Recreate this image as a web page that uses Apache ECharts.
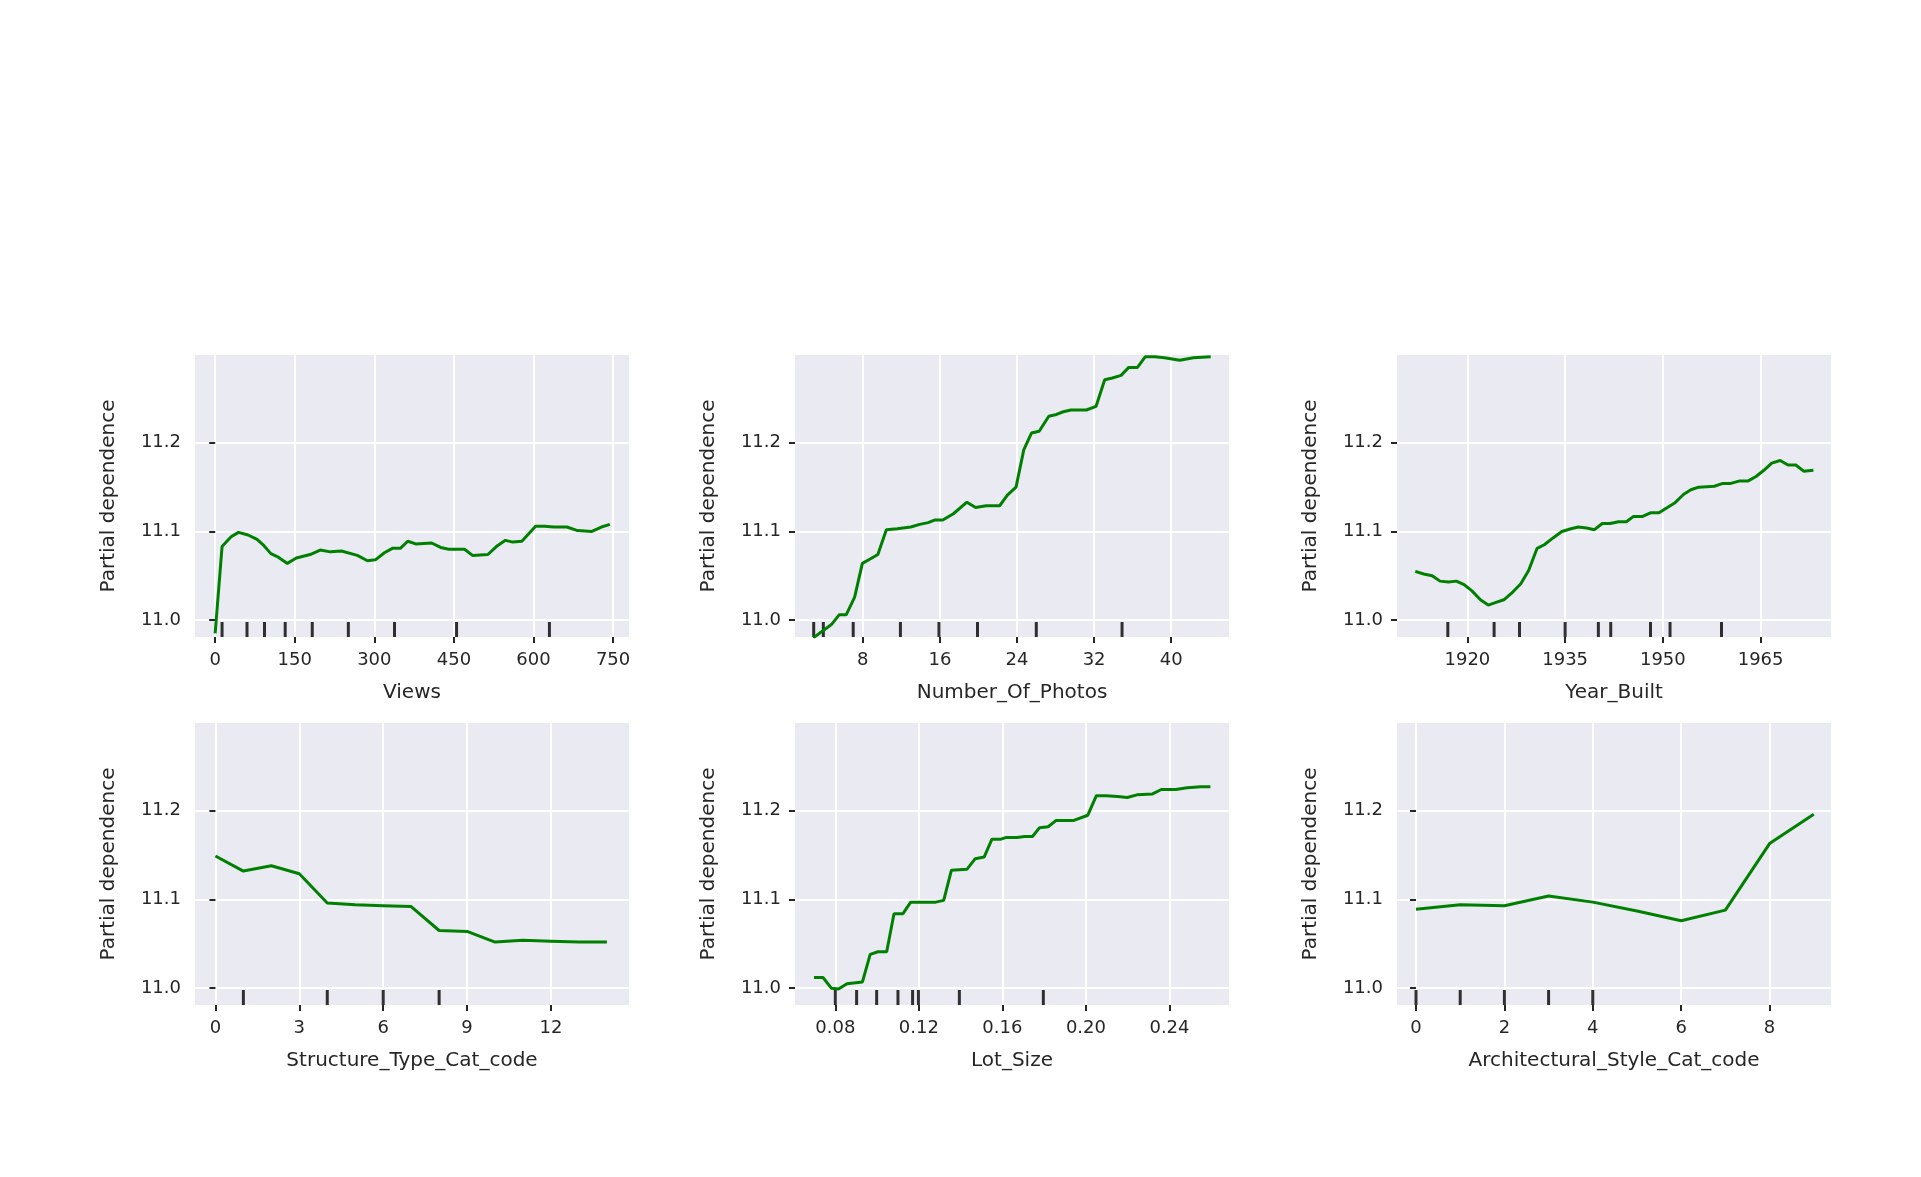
<!DOCTYPE html>
<html>
<head>
<meta charset="utf-8" />
<script src="https://cdn.jsdelivr.net/npm/echarts@6/dist/echarts.min.js"></script>
<style>
  html, body { margin: 0; padding: 0; background: #fff; }
  #main { width: 1921px; height: 1177px; }
</style>
</head>
<body>
<div id="main"></div>
<script type="text/javascript">
// partial dependence curves, one per feature
var viewsX = [0, 13, 30, 44, 62, 79, 92, 105, 119, 136, 153, 179, 198, 217, 238, 268, 287, 302, 319, 334, 349, 363, 378, 408, 425, 440, 470, 485, 514, 530, 547, 561, 578, 604, 621, 638, 663, 683, 710, 728, 744];
var viewsY = [10.985, 11.083, 11.094, 11.099, 11.096, 11.091, 11.084, 11.075, 11.071, 11.064, 11.070, 11.074, 11.079, 11.077, 11.078, 11.073, 11.067, 11.068, 11.076, 11.081, 11.081, 11.089, 11.086, 11.087, 11.082, 11.080, 11.080, 11.073, 11.074, 11.083, 11.090, 11.088, 11.089, 11.106, 11.106, 11.105, 11.105, 11.101, 11.100, 11.105, 11.108];
var viewsRug = [13, 60, 93, 132, 183, 251, 338, 455, 630];

var photosX = [2.85, 4.74, 5.54, 6.27, 7.15, 7.95, 8.76, 9.56, 10.44, 11.57, 12.97, 13.9, 14.78, 15.5, 16.3, 17.4, 18.8, 19.7, 20.8, 22.2, 23.0, 23.9, 24.7, 25.5, 26.3, 27.3, 28.1, 28.8, 29.6, 31.2, 32.2, 33.1, 33.9, 34.8, 35.6, 36.5, 37.3, 38.3, 39.3, 40.9, 42.3, 44.1];
var photosY = [10.980, 10.995, 11.006, 11.006, 11.026, 11.064, 11.069, 11.074, 11.102, 11.103, 11.105, 11.108, 11.110, 11.113, 11.113, 11.120, 11.133, 11.127, 11.129, 11.129, 11.141, 11.150, 11.192, 11.211, 11.213, 11.230, 11.232, 11.235, 11.237, 11.237, 11.241, 11.271, 11.273, 11.276, 11.285, 11.285, 11.297, 11.297, 11.296, 11.293, 11.296, 11.297];
var photosRug = [2.9, 3.9, 7.0, 11.9, 15.9, 19.9, 26.0, 34.9];

var yearX = [1912.0, 1913.3, 1914.6, 1915.8, 1917.1, 1918.3, 1919.5, 1920.7, 1922.0, 1923.2, 1924.4, 1925.6, 1927.0, 1928.2, 1929.4, 1930.7, 1931.8, 1933.2, 1934.5, 1935.9, 1937.0, 1938.3, 1939.5, 1940.7, 1941.9, 1943.2, 1944.4, 1945.5, 1946.9, 1948.1, 1949.4, 1950.7, 1951.8, 1953.2, 1954.3, 1955.5, 1957.9, 1959.1, 1960.3, 1961.8, 1963.1, 1964.3, 1965.5, 1966.7, 1968.0, 1969.2, 1970.4, 1971.6, 1973.1];
var yearY = [11.055, 11.052, 11.050, 11.044, 11.043, 11.044, 11.040, 11.033, 11.023, 11.017, 11.020, 11.023, 11.032, 11.041, 11.056, 11.081, 11.085, 11.093, 11.100, 11.103, 11.105, 11.104, 11.102, 11.109, 11.109, 11.111, 11.111, 11.117, 11.117, 11.121, 11.121, 11.127, 11.132, 11.142, 11.147, 11.150, 11.151, 11.154, 11.154, 11.157, 11.157, 11.162, 11.169, 11.177, 11.180, 11.175, 11.175, 11.168, 11.169];
var yearRug = [1917.0, 1924.1, 1928.0, 1935.0, 1940.1, 1942.0, 1948.1, 1951.1, 1959.0];

var structX = [0, 1, 2, 3, 4, 5, 6, 7, 8, 9, 10, 11, 12, 13, 14];
var structY = [11.149, 11.132, 11.138, 11.129, 11.096, 11.094, 11.093, 11.092, 11.065, 11.064, 11.052, 11.054, 11.053, 11.052, 11.052];
var structRug = [1, 4, 6, 8];

var lotX = [0.0698, 0.0741, 0.0781, 0.0815, 0.0856, 0.0930, 0.0967, 0.1004, 0.1046, 0.1081, 0.1124, 0.1161, 0.1281, 0.1319, 0.1356, 0.1430, 0.1470, 0.1513, 0.1550, 0.1593, 0.1619, 0.1670, 0.1707, 0.1744, 0.1778, 0.1819, 0.1856, 0.1939, 0.2009, 0.2050, 0.2096, 0.2152, 0.2198, 0.2244, 0.2319, 0.2361, 0.2430, 0.2485, 0.2550, 0.2596];
var lotY = [11.012, 11.012, 11.000, 10.999, 11.005, 11.007, 11.038, 11.041, 11.041, 11.084, 11.084, 11.097, 11.097, 11.099, 11.133, 11.134, 11.146, 11.148, 11.168, 11.168, 11.170, 11.170, 11.171, 11.171, 11.181, 11.182, 11.189, 11.189, 11.195, 11.217, 11.217, 11.216, 11.215, 11.218, 11.219, 11.224, 11.224, 11.226, 11.227, 11.227];
var lotRug = [0.08, 0.0902, 0.0998, 0.110, 0.117, 0.1198, 0.1394, 0.1796];

var archX = [0, 1, 2, 3, 4, 5, 6, 7, 8, 9];
var archY = [11.089, 11.094, 11.093, 11.104, 11.097, 11.087, 11.076, 11.088, 11.163, 11.196];
var archRug = [0, 1, 2, 3, 4];

var yTicks = [11.0, 11.1, 11.2];

var panels = [
    { name: 'Views', x: viewsX, y: viewsY, rug: viewsRug, min: -38, max: 780, ticks: [0, 150, 300, 450, 600, 750], dec: 0 },
    { name: 'Number_Of_Photos', x: photosX, y: photosY, rug: photosRug, min: 0.96, max: 46.0, ticks: [8, 16, 24, 32, 40], dec: 0 },
    { name: 'Year_Built', x: yearX, y: yearY, rug: yearRug, min: 1909.2, max: 1975.8, ticks: [1920, 1935, 1950, 1965], dec: 0 },
    { name: 'Structure_Type_Cat_code', x: structX, y: structY, rug: structRug, min: -0.73, max: 14.79, ticks: [0, 3, 6, 9, 12], dec: 0 },
    { name: 'Lot_Size', x: lotX, y: lotY, rug: lotRug, min: 0.0607, max: 0.2685, ticks: [0.08, 0.12, 0.16, 0.20, 0.24], dec: 2 },
    { name: 'Architectural_Style_Cat_code', x: archX, y: archY, rug: archRug, min: -0.43, max: 9.39, ticks: [0, 2, 4, 6, 8], dec: 0 }
];

var lefts = [195, 795, 1397];
var tops = [355, 723];
var W = 434, H = 282;
var yMin = 10.981, yMax = 11.299;

var grid = [], xAxis = [], yAxis = [], series = [];
panels.forEach(function (p, i) {
    var col = i % 3, row = Math.floor(i / 3);
    grid.push({ left: lefts[col], top: tops[row], width: W, height: H, show: true, backgroundColor: '#EAEAF2', borderWidth: 0 });
    var lab = { color: '#262626', fontSize: 18, fontFamily: 'DejaVu Sans', margin: 14 };
    xAxis.push({
        gridIndex: i, type: 'value', min: p.min, max: p.max,
        name: p.name, nameLocation: 'middle', nameGap: 46,
        nameTextStyle: { color: '#262626', fontSize: 20, fontFamily: 'DejaVu Sans' },
        axisLine: { show: false },
        axisTick: { show: true, length: 6, customValues: p.ticks, lineStyle: { color: '#262626', width: 2 } },
        axisLabel: Object.assign({ customValues: p.ticks, formatter: function (v) { return v.toFixed(p.dec); } }, lab),
        splitLine: { show: true, lineStyle: { color: '#ffffff', width: 2 } }
    });
    yAxis.push({
        gridIndex: i, type: 'value', min: yMin, max: yMax,
        name: 'Partial dependence', nameLocation: 'middle', nameGap: 76,
        nameTextStyle: { color: '#262626', fontSize: 20, fontFamily: 'DejaVu Sans' },
        axisLine: { show: false },
        axisTick: { show: true, length: 6, customValues: yTicks, lineStyle: { color: '#262626', width: 2 } },
        axisLabel: Object.assign({ customValues: yTicks, formatter: function (v) { return v.toFixed(1); } }, lab),
        splitLine: { show: true, lineStyle: { color: '#ffffff', width: 2 } }
    });
    series.push({
        type: 'line', xAxisIndex: i, yAxisIndex: i, symbol: 'none', clip: true,
        data: p.x.map(function (x, k) { return [x, p.y[k]]; }),
        lineStyle: { color: '#008000', width: 3 }
    });
    series.push({
        type: 'scatter', xAxisIndex: i, yAxisIndex: i, symbol: 'rect', symbolSize: [3, 15],
        symbolOffset: [0, -7.5], clip: false,
        data: p.rug.map(function (x) { return [x, yMin]; }),
        itemStyle: { color: '#000000' }
    });
});

var chart = echarts.init(document.getElementById('main'));
chart.setOption({ animation: false, backgroundColor: '#ffffff', grid: grid, xAxis: xAxis, yAxis: yAxis, series: series });
</script>
</body>
</html>
